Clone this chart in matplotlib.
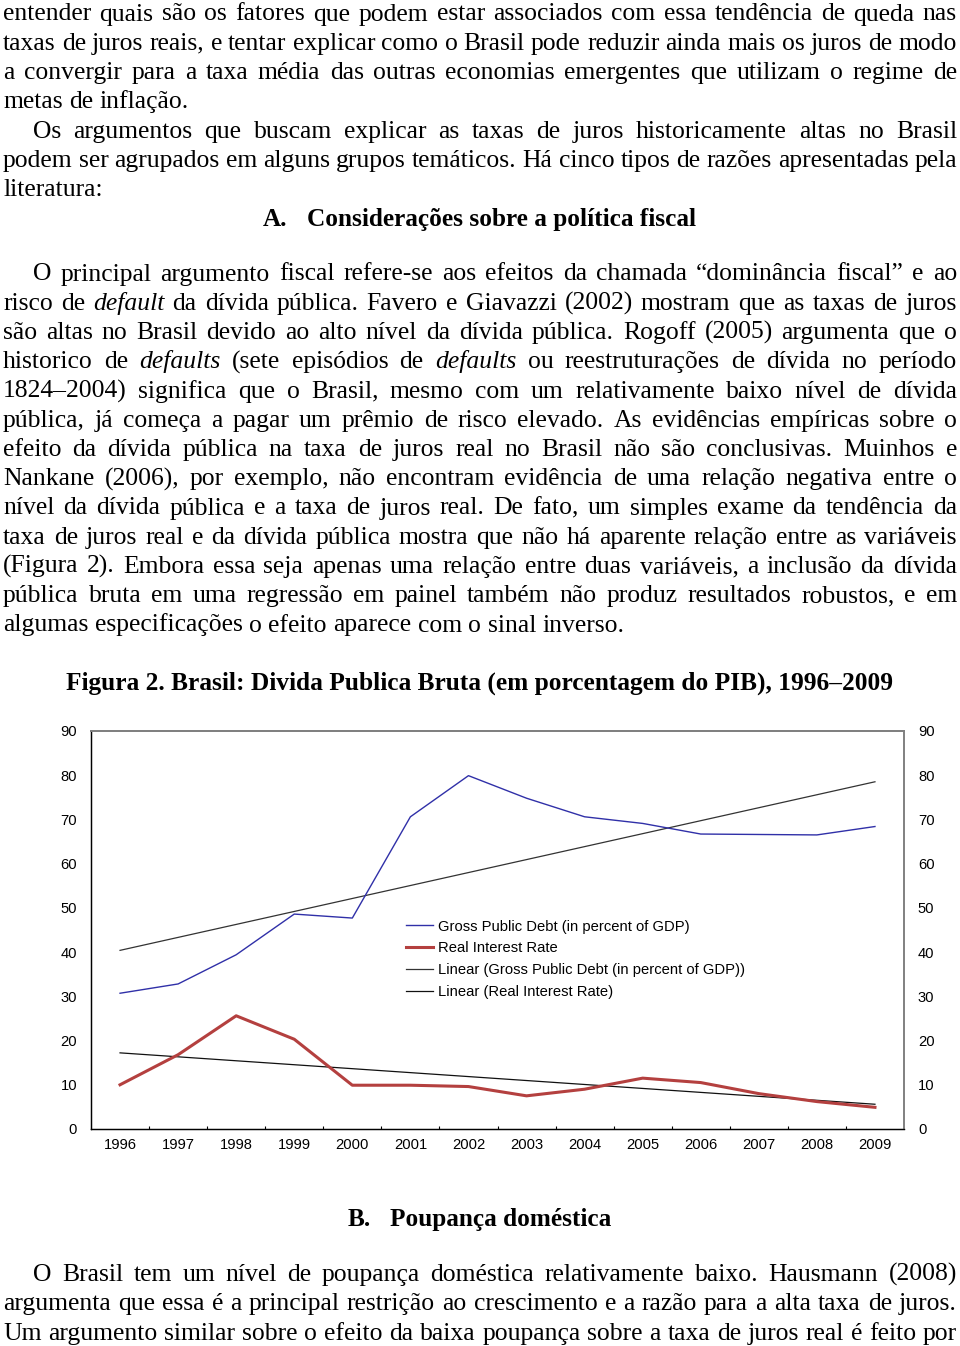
import matplotlib
matplotlib.use('Agg')
import matplotlib.pyplot as plt
import numpy as np

# ---------------- chart data ----------------
years = ['1996', '1997', '1998', '1999', '2000', '2001', '2002',
         '2003', '2004', '2005', '2006', '2007', '2008', '2009']
gross_debt = [30.7, 32.8, 39.4, 48.6, 47.7, 70.6, 79.9,
              74.8, 70.6, 69.1, 66.7, 66.6, 66.5, 68.4]
real_rate = [10.0, 16.8, 25.6, 20.3, 9.9, 9.9, 9.6,
             7.5, 9.0, 11.5, 10.5, 8.0, 6.2, 4.9]
y_ticks = [0, 10, 20, 30, 40, 50, 60, 70, 80, 90]
legend_labels = ['Gross Public Debt (in percent of GDP)',
                 'Real Interest Rate',
                 'Linear (Gross Public Debt (in percent of GDP))',
                 'Linear (Real Interest Rate)']
chart_title = 'Figura 2. Brasil: Divida Publica Bruta (em porcentagem do PIB), 1996–2009'

# ---------------- page text ----------------
para1 = ["entender quais são os fatores que podem estar associados com essa tendência de queda nas",
         "taxas de juros reais, e tentar explicar como o Brasil pode reduzir ainda mais os juros de modo",
         "a convergir para a taxa média das outras economias emergentes que utilizam o regime de",
         "metas de inflação."]
para2 = ["Os argumentos que buscam explicar as taxas de juros historicamente altas no Brasil",
         "podem ser agrupados em alguns grupos temáticos. Há cinco tipos de razões apresentadas pela",
         "literatura:"]
heading_a = ("A.", "Considerações sobre a política fiscal")
para3 = ["O principal argumento fiscal refere-se aos efeitos da chamada “dominância fiscal” e ao",
         "risco de *default* da dívida pública. Favero e Giavazzi (2002) mostram que as taxas de juros",
         "são altas no Brasil devido ao alto nível da dívida pública. Rogoff (2005) argumenta que o",
         "historico de *defaults* (sete episódios de *defaults* ou reestruturações de dívida no período",
         "1824–2004) significa que o Brasil, mesmo com um relativamente baixo nível de dívida",
         "pública,  já começa a pagar um prêmio de risco elevado. As evidências empíricas sobre o",
         "efeito da dívida pública na taxa de juros real no Brasil não são conclusivas. Muinhos e",
         "Nankane (2006), por exemplo, não encontram evidência de uma relação negativa entre o",
         "nível da dívida pública e a taxa de juros real. De fato, um simples exame da tendência da",
         "taxa de juros real e da dívida pública  mostra que não há aparente relação entre as variáveis",
         "(Figura 2). Embora essa seja apenas uma relação entre duas variáveis, a inclusão da dívida",
         "pública bruta em uma regressão em painel também não produz resultados robustos, e em",
         "algumas especificações o efeito aparece com o sinal inverso."]
heading_b = ("B.", "Poupança doméstica")
para4 = ["O Brasil tem um nível de poupança doméstica relativamente baixo. Hausmann (2008)",
         "argumenta que essa é a principal restrição ao crescimento e a razão para a alta taxa de juros.",
         "Um argumento similar sobre o efeito da baixa poupança sobre a taxa de juros real é feito por"]

W, H = 960, 1346
fig = plt.figure(figsize=(W / 100, H / 100), dpi=100)
R = fig.canvas.get_renderer()
SERIF = 'Liberation Serif'
SANS = 'Liberation Sans'
PT = 0.72
BODY = 25.6
HEAD = 25.3
LEFT, RIGHT, INDENT = 3, 957, 33


def put(x, y, s, size=BODY, weight='normal', style='normal', ha='left'):
    return fig.text(x / W, 1 - y / H, s, fontsize=size * PT, family=SERIF,
                    weight=weight, style=style, ha=ha, va='baseline')


def line(text, y, x0=LEFT, x1=RIGHT, size=BODY, justify=True):
    objs = []
    for w in text.split():
        st = 'normal'
        if w.startswith('*') and w.endswith('*'):
            w = w[1:-1]
            st = 'italic'
        objs.append(put(0, y, w, size=size, style=st))
    widths = [t.get_window_extent(R).width for t in objs]
    if justify and len(objs) > 1:
        gap = (x1 - x0 - sum(widths)) / (len(objs) - 1)
    else:
        gap = 0.25 * size
    x = x0
    for t, wd in zip(objs, widths):
        t.set_position((x / W, 1 - y / H))
        x += wd + gap


def paragraph(lines, y0, step, indent=True, ends=True):
    for i, s in enumerate(lines):
        x0 = INDENT if (indent and i == 0) else LEFT
        last = (i == len(lines) - 1) and ends
        line(s, y0 + i * step, x0=x0, justify=not last)


STEP = 29.3
paragraph(para1, 20.5, STEP, indent=False)
paragraph(para2, 20.5 + 4 * STEP, STEP)
put(263, 226, heading_a[0], size=HEAD, weight='bold')
put(307, 226, heading_a[1], size=HEAD, weight='bold')
paragraph(para3, 280.5, 29.25)
put(480, 690, chart_title, size=25.4, weight='bold', ha='center')
put(348, 1226, heading_b[0], size=HEAD, weight='bold')
put(390, 1226, heading_b[1], size=HEAD, weight='bold')
paragraph(para4, 1281, STEP, ends=False)

# ---------------- chart ----------------
ax_l, ax_r, ax_t, ax_b = 91, 904, 731, 1129
ax = fig.add_axes([ax_l / W, 1 - ax_b / H, (ax_r - ax_l) / W, (ax_b - ax_t) / H])
x = np.arange(len(years))
debt_fit = np.polyfit(x, gross_debt, 1)
rate_fit = np.polyfit(x, real_rate, 1)

ax.plot(x, gross_debt, color='#3030a8', lw=1.0, label=legend_labels[0], zorder=3)
ax.plot(x, real_rate, color='#b4403f', lw=2.2, label=legend_labels[1], zorder=3)
ax.plot(x, np.polyval(debt_fit, x), color='#333333', lw=0.9, label=legend_labels[2], zorder=2)
ax.plot(x, np.polyval(rate_fit, x), color='#111111', lw=0.9, label=legend_labels[3], zorder=2)

FS = 10.6
ax.set_xlim(-0.5, len(years) - 0.5)
ax.set_ylim(0, 90)
ax.set_xticks(x)
ax.set_xticklabels(years, family=SANS, fontsize=FS)
ax.set_xticks(np.arange(0.5, len(years) - 1, 1.0), minor=True)
ax.tick_params(axis='x', which='major', length=0, pad=6.5)
ax.tick_params(axis='x', which='minor', length=2.3, direction='in', width=0.8, color='black')
ax.set_yticks(y_ticks)
ax.set_yticklabels([str(v) for v in y_ticks], family=SANS, fontsize=FS)
ax.tick_params(axis='y', length=0, pad=10)

ax2 = ax.twinx()
ax2.set_ylim(0, 90)
ax2.set_yticks(y_ticks)
ax2.set_yticklabels([str(v) for v in y_ticks], family=SANS, fontsize=FS)
ax2.tick_params(axis='y', length=0, pad=10)

for a in (ax, ax2):
    a.spines['left'].set_color('black')
    a.spines['left'].set_linewidth(0.9)
    a.spines['bottom'].set_color('black')
    a.spines['bottom'].set_linewidth(0.9)
    a.spines['top'].set_color('#808080')
    a.spines['top'].set_linewidth(1.4)
    a.spines['right'].set_color('#808080')
    a.spines['right'].set_linewidth(1.2)

leg = ax.legend(loc='upper left', bbox_to_anchor=(406 / W, 1 - 919.5 / H),
                bbox_transform=fig.transFigure, frameon=False, borderpad=0,
                borderaxespad=0, handlelength=1.85, handletextpad=0.35,
                labelspacing=0.54, prop={'family': SANS, 'size': FS})

fig.savefig('out.png', dpi=100)
